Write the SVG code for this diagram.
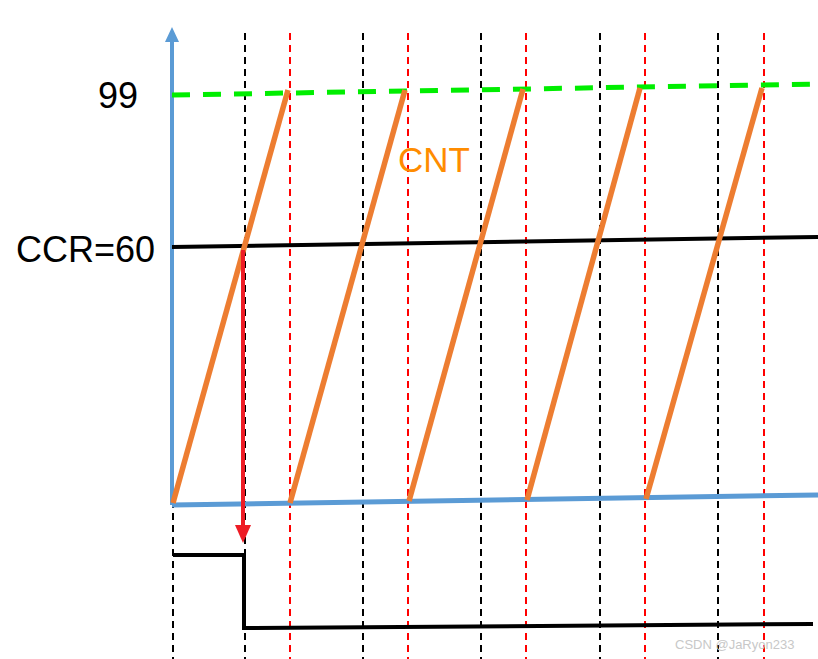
<svg xmlns="http://www.w3.org/2000/svg" width="818" height="659" viewBox="0 0 818 659">
<style>
.vb{stroke:#000;stroke-width:2;stroke-dasharray:7 5;fill:none}
.vr{stroke:#f00;stroke-width:2;stroke-dasharray:7 5;fill:none}
.saw{stroke:#ED7D31;stroke-width:5.5;fill:none}
.lbl{font-family:"Liberation Sans",Arial,sans-serif;font-size:36px;fill:#000}
</style>
<rect width="818" height="659" fill="#fff"/>
<g id="grid">
<line class="vb" x1="173" y1="33" x2="173" y2="659"/>
<line class="vb" x1="245" y1="33" x2="245" y2="659"/>
<line class="vb" x1="363" y1="33" x2="363" y2="659"/>
<line class="vb" x1="481" y1="33" x2="481" y2="659"/>
<line class="vb" x1="600" y1="33" x2="600" y2="659"/>
<line class="vb" x1="718" y1="33" x2="718" y2="659"/>
<line class="vr" x1="290" y1="33" x2="290" y2="659"/>
<line class="vr" x1="408" y1="33" x2="408" y2="659"/>
<line class="vr" x1="526" y1="33" x2="526" y2="659"/>
<line class="vr" x1="645" y1="33" x2="645" y2="659"/>
<line class="vr" x1="764" y1="33" x2="764" y2="659"/>
</g>
<g id="axis">
<line x1="172" y1="505" x2="172" y2="40" stroke="#5B9BD5" stroke-width="4"/>
<polygon points="172,27 165,42 179,42" fill="#5B9BD5"/>
<line x1="172" y1="505" x2="818" y2="495" stroke="#5B9BD5" stroke-width="5"/>
</g>
<g id="max-line">
<line x1="172" y1="95" x2="818" y2="84" stroke="#00EE00" stroke-width="5" stroke-dasharray="18 13"/>
</g>
<g id="ccr-line">
<line x1="172" y1="247" x2="818" y2="237" stroke="#000" stroke-width="4"/>
</g>
<g id="cnt">
<line class="saw" x1="173" y1="503" x2="288" y2="90"/>
<line class="saw" x1="290" y1="503" x2="405" y2="90"/>
<line class="saw" x1="409" y1="501" x2="523" y2="89"/>
<line class="saw" x1="527" y1="500" x2="640" y2="88"/>
<line class="saw" x1="646" y1="499" x2="762" y2="88"/>
</g>
<g id="connectors">
<line x1="243" y1="250" x2="243" y2="526" stroke="#EE1C25" stroke-width="4"/>
<polygon points="243,543 235,525 251,525" fill="#EE1C25"/>
</g>
<g id="output">
<polyline points="173,555 244,555 244,628 813,624" fill="none" stroke="#000" stroke-width="4"/>
</g>
<g id="labels">
<text class="lbl" x="98" y="108">99</text>
<text class="lbl" x="16" y="262">CCR=60</text>
<text x="398" y="172" font-family="Liberation Sans,Arial,sans-serif" font-size="35" fill="#FF8C00">CNT</text>
<text x="675" y="649" font-family="Liberation Sans,Arial,sans-serif" font-size="13" fill="#c8c8c8">CSDN @JaRyon233</text>
</g>
</svg>
